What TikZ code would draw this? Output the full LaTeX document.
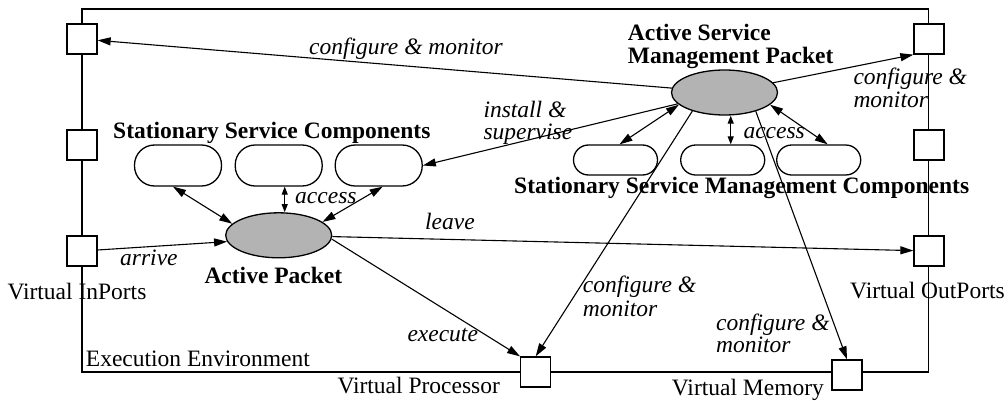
\documentclass[tikz,border=0pt]{standalone}
\usepackage{fontspec}
\setmainfont{Liberation Serif}
\usetikzlibrary{arrows.meta,shapes.geometric}
\definecolor{pktgray}{RGB}{179,179,179}
\begin{document}
\begin{tikzpicture}[x=1pt,y=-1pt,
  lbl/.style={inner sep=0pt, anchor=base west, font=\fontsize{23.5}{23.5}\selectfont},
  itl/.style={lbl, font=\fontsize{23.5}{23.5}\selectfont\itshape},
  bfl/.style={lbl, font=\fontsize{23.5}{23.5}\selectfont\bfseries},
  port/.style={draw, fill=white, minimum size=30pt, inner sep=0pt, line width=1.3pt},
  sbox/.style={draw, rounded corners=20pt, minimum width=87pt, minimum height=41pt, inner sep=0pt, line width=1.3pt},
  mbox/.style={draw, rounded corners=15pt, minimum width=84pt, minimum height=30pt, inner sep=0pt, line width=1.3pt},
  pkt/.style={draw, ellipse, fill=pktgray, minimum width=106pt, minimum height=45pt, inner sep=0pt, line width=1.3pt},
  arr/.style={-{Triangle[length=13pt,width=8pt]}, line width=1.1pt},
  dbl/.style={{Triangle[length=13pt,width=8pt]}-{Triangle[length=13pt,width=8pt]}, line width=1.1pt},
  dbls/.style={{Triangle[length=8pt,width=6pt]}-{Triangle[length=8pt,width=6pt]}, line width=1.1pt}
]
\useasboundingbox (0,0) rectangle (1008,401);
% frame
\coordinate (ftl) at (82,9);
\coordinate (fbr) at (928.7,372);
\draw[line width=1.3pt] (ftl) rectangle (fbr);
% ports
\node[port] (pL1) at (82,39) {};
\node[port] (pL2) at (82,145) {};
\node[port] (pL3) at (82,251) {};
\node[port] (pR1) at (929,39) {};
\node[port] (pR2) at (929,145) {};
\node[port] (pR3) at (929,251) {};
\node[port] (proc) at (535.7,372) {};
\node[port] (mem) at (847,375) {};
% stationary service components
\node[sbox] (s1) at (178,165.5) {};
\node[sbox] (s2) at (278.7,165.5) {};
\node[sbox] (s3) at (378.7,165.5) {};
% stationary service management components
\node[mbox] (m1) at (615.5,160) {};
\node[mbox] (m2) at (722.7,160) {};
\node[mbox] (m3) at (818.7,160) {};
% packets
\node[pkt] (ap) at (278.7,235.3) {};
\node[pkt] (asmp) at (724.5,92.5) {};
% connectors
\draw[arr] (asmp) -- (pL1);
\draw[arr] (asmp) -- (pR1.south west);
\draw[arr] (asmp) -- (s3.east);
\draw[dbl] (asmp.195) -- ([xshift=4pt]m1.north);
\draw[dbls] ([xshift=8pt]m2.north |- asmp.south) -- ([xshift=8pt]m2.north);
\draw[dbl] (asmp.-15) -- ([xshift=9pt]m3.north);
\draw[arr] (asmp.210) -- (proc.north);
\draw[arr] (asmp.-31) -- (mem.north);
\draw[dbl] ([xshift=-5pt]s1.south) -- (ap.166);
\draw[dbls] ([xshift=6pt]s2.south) -- ([xshift=6pt]s2.south |- ap.north);
\draw[dbl] ([xshift=4pt]s3.south) -- (ap.17);
\draw[arr] (pL3) -- (ap.187);
\draw[arr] (ap) -- (pR3);
\draw[arr] (ap.-4) -- (proc.north west);
% bold labels
\node[bfl] (tssc) at (113,138) {Stationary Service Components};
\node[bfl] (tsmc) at (514,193.3) {Stationary Service Management Components};
\node[bfl] (tap) at (204.3,283.3) {Active Packet};
\node[bfl] (tasmp1) at (627.7,40.7) {Active Service};
\node[bfl] (tasmp2) at (627.7,63.5) {Management Packet};
% plain labels
\node[lbl] (tin) at (7.3,299) {Virtual InPorts};
\node[lbl] (tout) at (850,298.3) {Virtual OutPorts};
\node[lbl] (tee) at (85.7,366) {Execution Environment};
\node[lbl] (tproc) at (337.3,393.3) {Virtual Processor};
\node[lbl] (tmem) at (671.7,395) {Virtual Memory};
% italic labels
\node[itl] (lcm1) at (309,54.5) {configure \& monitor};
\node[itl] (lis1) at (483.3,117.5) {install \&};
\node[itl] (lis2) at (483.3,139.5) {supervise};
\node[itl] (lcm2a) at (853.3,85) {configure \&};
\node[itl] (lcm2b) at (853.3,108) {monitor};
\node[itl] (lacc1) at (743.3,138.3) {access};
\node[itl] (lacc2) at (295,203.3) {access};
\node[itl] (larr) at (120,265) {arrive};
\node[itl] (llea) at (425,229) {leave};
\node[itl] (lexe) at (407.3,341.7) {execute};
\node[itl] (lcm3a) at (582.7,292.7) {configure \&};
\node[itl] (lcm3b) at (582.7,316.2) {monitor};
\node[itl] (lcm4a) at (716,330) {configure \&};
\node[itl] (lcm4b) at (716,352.5) {monitor};
\end{tikzpicture}
\end{document}
